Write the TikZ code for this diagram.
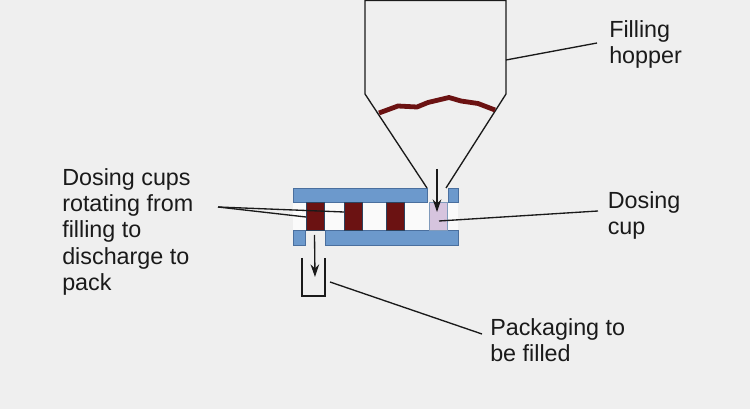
\documentclass[tikz,border=0pt]{standalone}
\usepackage{fontspec}
\setmainfont{Liberation Sans}
\usetikzlibrary{arrows.meta}
\definecolor{bgc}{HTML}{EFEFEF}
\definecolor{plate}{HTML}{6C99CC}
\definecolor{plateedge}{HTML}{4A6F9E}
\definecolor{maroon}{HTML}{6B1212}
\definecolor{lilac}{HTML}{D6C4DE}
\definecolor{ink}{HTML}{1A1A1A}
\tikzset{
  line/.style={draw=ink,line width=1pt},
  lead/.style={draw=ink,line width=1pt},
  flow/.style={draw=ink,line width=1pt,-{Stealth[length=9.5pt,width=6.5pt]}},
  plateblock/.style={fill=plate,draw=plateedge,line width=0.5pt},
  cupblock/.style={fill=maroon,draw=plateedge!60!black,line width=0.4pt},
  label/.style={font=\fontsize{17.5}{19.6}\selectfont,align=left,anchor=north west,inner sep=0pt,text=ink}
}
\begin{document}
\begin{tikzpicture}[x=0.75pt,y=-0.75pt]
\useasboundingbox (0,0) rectangle (750,409);
\fill[bgc] (0,0) rectangle (750,409);
% pockets
\fill[white!70!bgc] (293,202) rectangle (458,230);
% plates
\path[plateblock] (293,188) rectangle (427.5,202);
\path[plateblock] (448,188) rectangle (458,202);
\path[plateblock] (293,230) rectangle (305,245);
\path[plateblock] (325,230) rectangle (458,245);
% cups
\path[cupblock] (306,202) rectangle (324,230);
\path[cupblock] (344,202) rectangle (362,230);
\path[cupblock] (386,202) rectangle (404,230);
\path[fill=lilac,draw=plateedge!70,line width=0.4pt] (429,202) rectangle (447,230);
% hopper
\draw[line] (427,188) -- (365,94) -- (365,0.5) -- (506,0.5) -- (506,94) -- (446,188);
% product surface
\draw[maroon,line width=3.6pt,line join=round] (379,113) -- (398,106) -- (417,107) -- (428,102.5) -- (449,97.5) -- (461,101) -- (478,103.5) -- (495,110);
% packaging
\draw[line,line width=1.2pt] (302,258) -- (302,296) -- (325,296) -- (325,258);
% flow arrows
\coordinate (fillTop) at (437,169);
\coordinate (fillEnd) at (437,212);
\coordinate (dropTop) at (314.5,235);
\coordinate (dropEnd) at (315,277);
\draw[flow] (fillTop) -- (fillEnd);
\draw[flow] (dropTop) -- (dropEnd);
% labels
\node[label] (hopper) at (609,20.5) {Filling\\hopper};
\node[label] (cup) at (607.5,191.5) {Dosing\\cup};
\node[label] (cups) at (62,168.5) {Dosing cups\\rotating from\\filling to\\discharge to\\pack};
\node[label] (pack) at (490,318.5) {Packaging to\\be filled};
% leaders
\coordinate (h1) at (506,60);
\coordinate (h2) at (597,43);
\coordinate (c1) at (439,221);
\coordinate (c2) at (598,211);
\coordinate (l0) at (218,207);
\coordinate (l1) at (344,212);
\coordinate (l2) at (306,217);
\coordinate (p1) at (330,282);
\coordinate (p2) at (482,334);
\draw[lead] (h1) -- (h2);
\draw[lead] (c1) -- (c2);
\draw[lead] (l0) -- (l1);
\draw[lead] (l0) -- (l2);
\draw[lead] (p1) -- (p2);
\end{tikzpicture}
\end{document}
